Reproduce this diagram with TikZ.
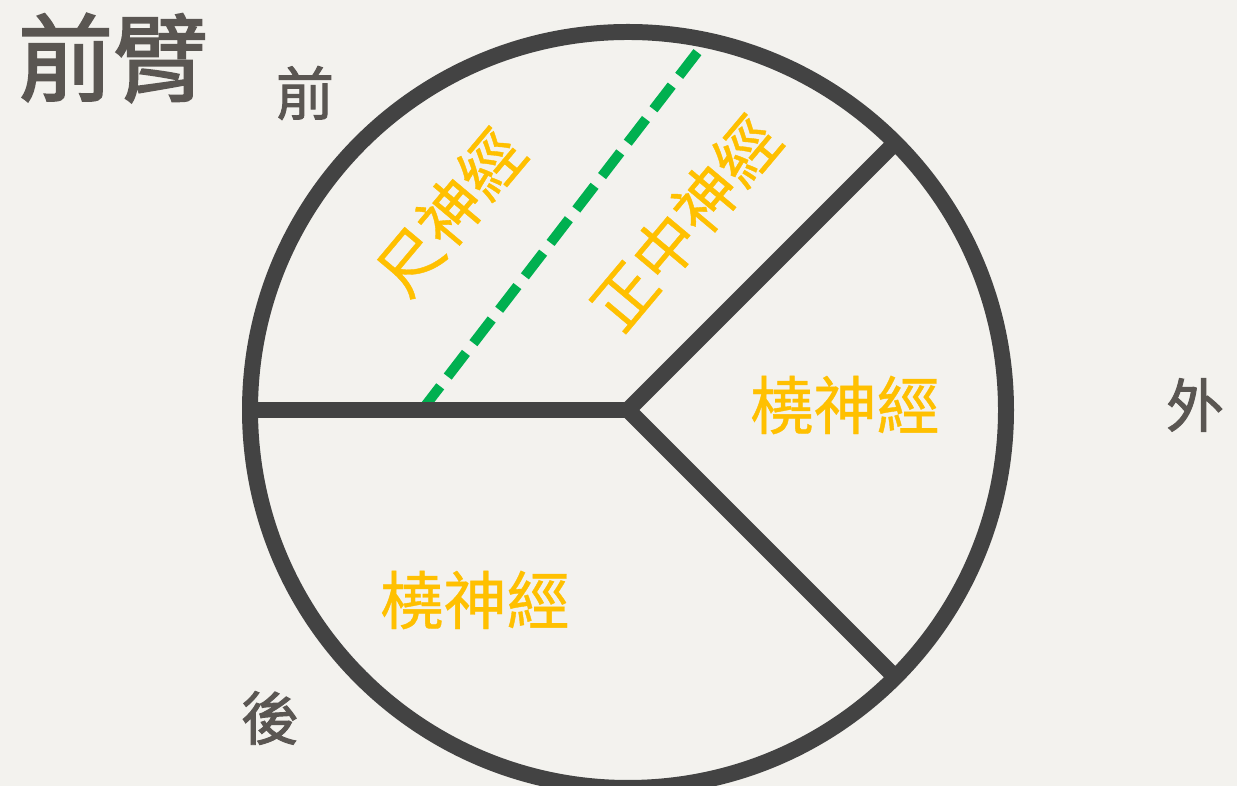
\documentclass[tikz,border=0pt]{standalone}
\usepackage{fontspec}
\usetikzlibrary{calc}
\newfontfamily\cjk[FakeBold=0.6]{Noto Sans CJK TC}
\newfontfamily\cjkheavy[FakeBold=2.2]{Noto Sans CJK TC}
\newfontfamily\cjkmid[FakeBold=1.6]{Noto Sans CJK TC}
\definecolor{paper}{HTML}{F3F2EE}
\definecolor{rim}{HTML}{434343}
\definecolor{sidegray}{HTML}{5A5652}
\definecolor{nerve}{HTML}{FFC000}
\definecolor{cutline}{HTML}{00B050}
\tikzset{
    side/.style={text=sidegray, font=\cjkmid\fontsize{33}{33}\selectfont},
    nervename/.style={text=nerve, font=\cjk\fontsize{36}{36}\selectfont},
}

\begin{document}
\begin{tikzpicture}[x=0.02cm, y=0.02cm, every node/.style={inner sep=0pt}]
    \fill[paper] (0,0) rectangle (1237,786);
    \useasboundingbox (0,0) rectangle (1237,786);
    \clip (0,0) rectangle (1237,786);
    \coordinate (c) at (628,376);
    \coordinate (cutstart) at (422,376);
    \coordinate (cutend) at ($(c)+(78.0:378)$);
    \draw[cutline, line width=5.7pt, dash pattern=on 17pt off 7pt] (cutstart) -- (cutend);
    \draw[rim, line width=9.1pt] (c) circle (378);
    \foreach \ang/\nm in {180/w, 45/ne, -45/se}{
        \coordinate (\nm) at ($(c)+(\ang:378)$);
        \draw[rim, line width=9.1pt] (c) -- (\nm);
    }
    \node[text=sidegray, font=\cjkheavy\fontsize{54}{54}\selectfont] (title) at (113,728) {前臂};
    \node[side] (front) at (305,693) {前};
    \node[side] (outer) at (1195,381) {外};
    \node[side] (back) at (270,68) {後};
    \node[nervename, rotate=50] (ulnar) at (450,574) {尺神經};
    \node[nervename, rotate=50] (median) at (685,563) {正中神經};
    \node[nervename] (radialA) at (845,381) {橈神經};
    \node[nervename] (radialB) at (475,186) {橈神經};
\end{tikzpicture}
\end{document}
